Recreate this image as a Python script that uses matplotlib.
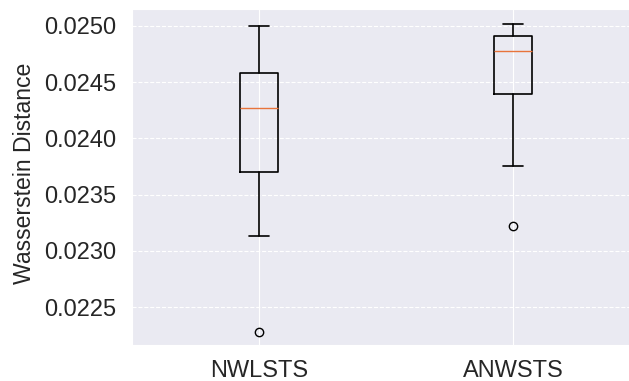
import matplotlib.pyplot as plt
import seaborn as sns

labels = ['NWLSTS', 'ANWSTS']
whis_lo = [0.023132, 0.023758]
q1 = [0.023698, 0.024390]
medians = [0.024274, 0.024775]
q3 = [0.024582, 0.024911]
whis_hi = [0.025000, 0.025015]
outliers = [[0.022278], [0.023221]]

sns.set_style('darkgrid')
plt.rcParams['font.family'] = ['Liberation Sans', 'DejaVu Sans']

fig = plt.figure(figsize=(6.29, 3.81), dpi=100)
ax = fig.add_axes([0.2099, 0.0945, 0.8076, 0.8819])

stats = []
for i in range(len(labels)):
    stats.append({'label': labels[i], 'whislo': whis_lo[i], 'q1': q1[i],
                  'med': medians[i], 'q3': q3[i], 'whishi': whis_hi[i],
                  'fliers': outliers[i]})

ax.bxp(stats, positions=[1, 2], widths=0.15,
       boxprops=dict(color='black', linewidth=1.2),
       whiskerprops=dict(color='black', linewidth=1.2),
       capprops=dict(color='black', linewidth=1.2),
       medianprops=dict(color='#e8743b', linewidth=1.0),
       flierprops=dict(marker='o', markerfacecolor='none',
                       markeredgecolor='black', markersize=6))

ax.set_xlim(0.5, 2.5)
ax.set_ylim(0.022165, 0.025149)
ax.set_yticks([0.0225, 0.0230, 0.0235, 0.0240, 0.0245, 0.0250])
ax.set_yticklabels(['0.0225', '0.0230', '0.0235', '0.0240', '0.0245', '0.0250'])
ax.yaxis.grid(True, linestyle='--')
ax.xaxis.grid(True, linestyle='-')
ax.tick_params(labelsize=17, colors='#262626')
ax.tick_params(axis='y', pad=8)
ax.tick_params(axis='x', pad=7)
ax.set_ylabel('Wasserstein Distance', fontsize=16.6, color='#262626')
ax.yaxis.set_label_coords(-0.189, 0.51)

fig.savefig('out.png', dpi=100)
